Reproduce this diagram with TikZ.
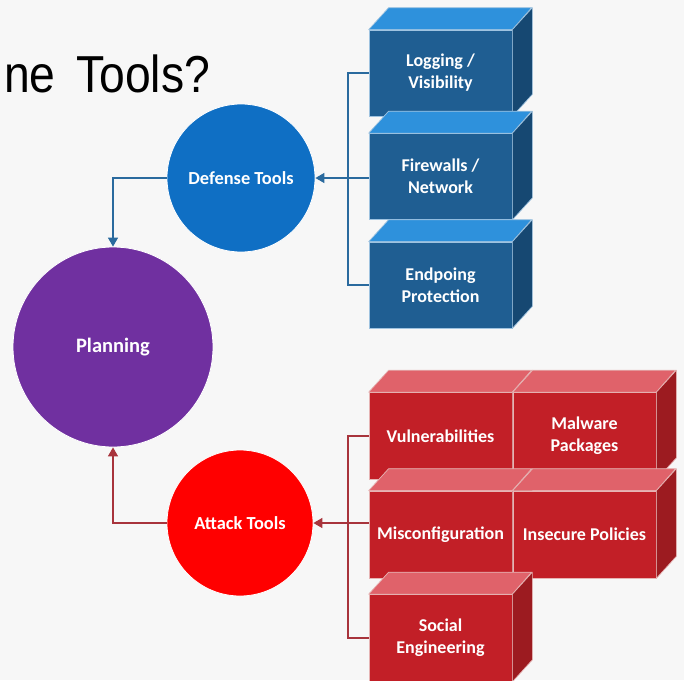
\documentclass[tikz,border=0pt]{standalone}
\usepackage{fontspec}
\setmainfont{Carlito}
\newfontfamily\titlefont{Liberation Sans}
\usetikzlibrary{arrows.meta,calc}
\definecolor{bg}{HTML}{F7F7F7}
\definecolor{defc}{HTML}{0F6FC4}
\definecolor{planc}{HTML}{7030A0}
\definecolor{attc}{HTML}{FF0000}
\definecolor{bfront}{HTML}{1F5E92}
\definecolor{btop}{HTML}{2E91DC}
\definecolor{bside}{HTML}{164872}
\definecolor{bedge}{HTML}{9FC3E0}
\definecolor{bline}{HTML}{2A6A9E}
\definecolor{rfront}{HTML}{C21F27}
\definecolor{rtop}{HTML}{E0626A}
\definecolor{rside}{HTML}{9C1B20}
\definecolor{redge}{HTML}{E6B4B4}
\definecolor{rline}{HTML}{A8343C}
\tikzset{
  circ/.style={circle,draw=white,line width=0.8pt,text=white,font=\bfseries\fontsize{18.4}{22}\selectfont,inner sep=0pt},
  bbox/.style={rectangle,minimum width=143pt,minimum height=86pt,fill=bfront,draw=bedge,line width=0.7pt,text=white,align=center,font=\bfseries\fontsize{18}{22}\selectfont,inner sep=0pt},
  rbox/.style={rectangle,minimum width=143pt,minimum height=87pt,fill=rfront,draw=redge,line width=0.7pt,text=white,align=center,font=\bfseries\fontsize{18}{22}\selectfont,inner sep=0pt},
  btopf/.style={fill=btop,draw=bedge,line width=0.7pt,line join=round},
  bsidef/.style={fill=bside,draw=bedge,line width=0.7pt,line join=round},
  rtopf/.style={fill=rtop,draw=redge,line width=0.7pt,line join=round},
  rsidef/.style={fill=rside,draw=redge,line width=0.7pt,line join=round},
  bconn/.style={draw=bline,line width=1.4pt},
  rconn/.style={draw=rline,line width=1.4pt},
  tip/.style={-{Triangle[length=9pt,width=10pt]}},
}
\newcommand{\cube}[3]{% name, topstyle, sidestyle
  \draw[#2] (#1.north west) -- ++(20,-22) -- ++(143,0) -- (#1.north east) -- cycle;
  \draw[#3] (#1.north east) -- ++(20,-22) -- ($(#1.south east)+(20,-22)$) -- (#1.south east) -- cycle;
}
\begin{document}
\begin{tikzpicture}[x=1pt,y=-1pt]
\useasboundingbox (0,0) rectangle (684,680);
\clip (0,0) rectangle (684,680);
\fill[bg] (0,0) rectangle (684,680);
\node[anchor=base west,inner sep=0pt,font=\titlefont\fontsize{52}{60}\selectfont,xscale=0.89] (title) at (4,92) {ne\hspace{23pt}Tools?};

% circles
\node[circ,fill=defc,minimum size=148pt] (def) at (241,178) {Defense Tools};
\node[circ,fill=planc,minimum size=200pt,font=\bfseries\fontsize{20.5}{24}\selectfont] (plan) at (113,347) {Planning};
\node[circ,fill=attc,minimum size=146pt] (att) at (240,523) {Attack Tools};

% blue boxes
\node[bbox] (log) at (440.5,73) {Logging /\\Visibility};
\cube{log}{btopf}{bsidef}
\node[bbox] (fw) at (440.5,176.5) {Firewalls /\\Network};
\cube{fw}{btopf}{bsidef}
\node[bbox] (ep) at (440.5,285) {Endpoing\\Protection};
\cube{ep}{btopf}{bsidef}

% red boxes
\node[rbox] (vul) at (440.5,436) {Vulnerabilities};
\cube{vul}{rtopf}{rsidef}
\node[rbox] (mal) at (584.5,436) {Malware\\Packages};
\cube{mal}{rtopf}{rsidef}
\node[rbox] (mis) at (440.5,534.5) {Misconfiguration};
\cube{mis}{rtopf}{rsidef}
\node[rbox] (ins) at (584.5,534.5) {Insecure Policies};
\cube{ins}{rtopf}{rsidef}
\node[rbox] (soc) at (440.5,638) {Social\\Engineering};
\cube{soc}{rtopf}{rsidef}

% connectors
\coordinate (bx) at (348,0);
\coordinate (rx) at (348,0);
\draw[bconn] (log.west) -- (log.west -| bx) -- (ep.west -| bx) -- (ep.west);
\draw[bconn,tip] (fw.west |- def.east) -- (def.east);
\draw[bconn,tip] (def.west) -| (plan.north);
\draw[rconn] (vul.west) -- (vul.west -| rx) -- (soc.west -| rx) -- (soc.west);
\draw[rconn,tip] (mis.west |- att.east) -- (att.east);
\draw[rconn,tip] (att.west) -| (plan.south);
\end{tikzpicture}
\end{document}
